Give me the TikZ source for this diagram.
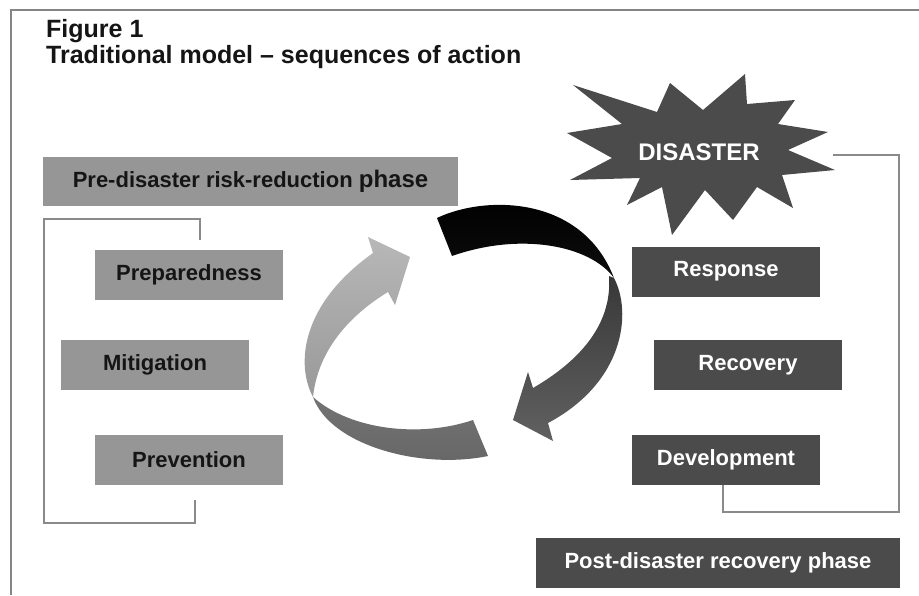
\documentclass[tikz,border=0pt]{standalone}
\usepackage{fontspec}
\setmainfont{Liberation Sans}
\definecolor{boxlight}{HTML}{969696}
\definecolor{boxdark}{HTML}{4B4B4B}
\definecolor{textdark}{HTML}{151515}
\definecolor{framegray}{HTML}{858585}
\definecolor{brgray}{HTML}{8A8A8A}
\tikzset{
  boxbase/.style={minimum width=188pt, minimum height=50pt, inner sep=0pt, font=\fontsize{22}{26}\selectfont\bfseries},
  lightbox/.style={boxbase, fill=boxlight, text=textdark},
  darkbox/.style={boxbase, fill=boxdark, text=white},
  framestyle/.style={draw=framegray, line width=2.5pt},
  bracketline/.style={draw=brgray, line width=1.5pt},
  titletext/.style={anchor=base west, inner sep=0pt, font=\fontsize{25}{30}\selectfont\bfseries, text=textdark}
}
\begin{document}
\begin{tikzpicture}[x=1pt,y=-1pt]
\useasboundingbox (0,0) rectangle (919,595);
\fill[white] (0,0) rectangle (919,595);
% frame
\draw[framestyle] (11,595) -- (11,10) -- (919,10);
% title
\node[titletext] (fig) at (46,37) {Figure 1};
\node[titletext] (title) at (46,63) {Traditional model -- sequences of action};
% pre-disaster phase box
\node[lightbox, minimum width=415pt, minimum height=49pt] (pre) at (250.5,181.5)
  {Pre-disaster risk-reduction {\fontsize{24}{28}\selectfont phase}};
% left boxes
\node[lightbox] (prep) at (189,275) {Preparedness};
\node[lightbox] (miti) at (155,365) {Mitigation};
\node[lightbox] (prev) at (189,459.5) {Prevention};
% right boxes
\node[darkbox] (resp) at (726,271.5) {Response};
\node[darkbox] (reco) at (748,365) {Recovery};
\node[darkbox] (deve) at (726,459.5) {Development};
\node[darkbox, minimum width=364pt] (post) at (718,563) {Post-disaster recovery phase};
% left bracket
\coordinate (lbA) at (200,240);
\coordinate (lbB) at (195,500);
\draw[bracketline] (lbA) -- (200,219) -- (44,219) -- (44,523) -- (195,523) -- (lbB);
% starburst
\fill[boxdark] (573,85) -- (657,112) -- (670,83) -- (703,110) -- (745,74) -- (747,104)
  -- (795,100) -- (778,124) -- (828,132) -- (788,150) -- (835,170) -- (782,175)
  -- (793,208) -- (757,187) -- (733,220) -- (705,190) -- (672,235) -- (662,187)
  -- (627,205) -- (640,178) -- (570,180) -- (612,158) -- (567,133) -- (622,124) -- cycle;
\node[font=\fontsize{24}{28}\selectfont\bfseries, text=white, inner sep=0pt] (dis) at (699,152) {DISASTER};
\coordinate (disR) at (833,155);
\coordinate (brR) at (899,512);
\draw[bracketline] (disR) -| (brR) -| ([xshift=-3pt]deve.south);
% right cycle arrow: black back face
\shade[top color=black, bottom color=black!95] (437,218) .. controls (485,195) and (582,195) .. (614,278)
  .. controls (590,245) and (520,232) .. (452,256) -- cycle;
% right cycle arrow: dark front face with head
\shade[top color=black!78, bottom color=black!62] (614,278) .. controls (632,312) and (625,382) .. (548,423)
  -- (553,441) -- (513,420) -- (528,372) -- (533,388)
  .. controls (588,356) and (612,318) .. (609,276) -- cycle;
% left cycle arrow: light front face with head
\shade[top color=black!28, bottom color=black!40] (313,397) .. controls (296,365) and (300,305) .. (373,253)
  -- (368,237) -- (410,257) -- (395,305) -- (388,292)
  .. controls (350,315) and (318,350) .. (313,397) -- cycle;
% left cycle arrow: darker back face
\shade[top color=black!55, bottom color=black!60] (313,397) .. controls (350,430) and (420,438) .. (473,420)
  -- (488,456) .. controls (420,470) and (330,445) .. (313,397) -- cycle;
\end{tikzpicture}
\end{document}
